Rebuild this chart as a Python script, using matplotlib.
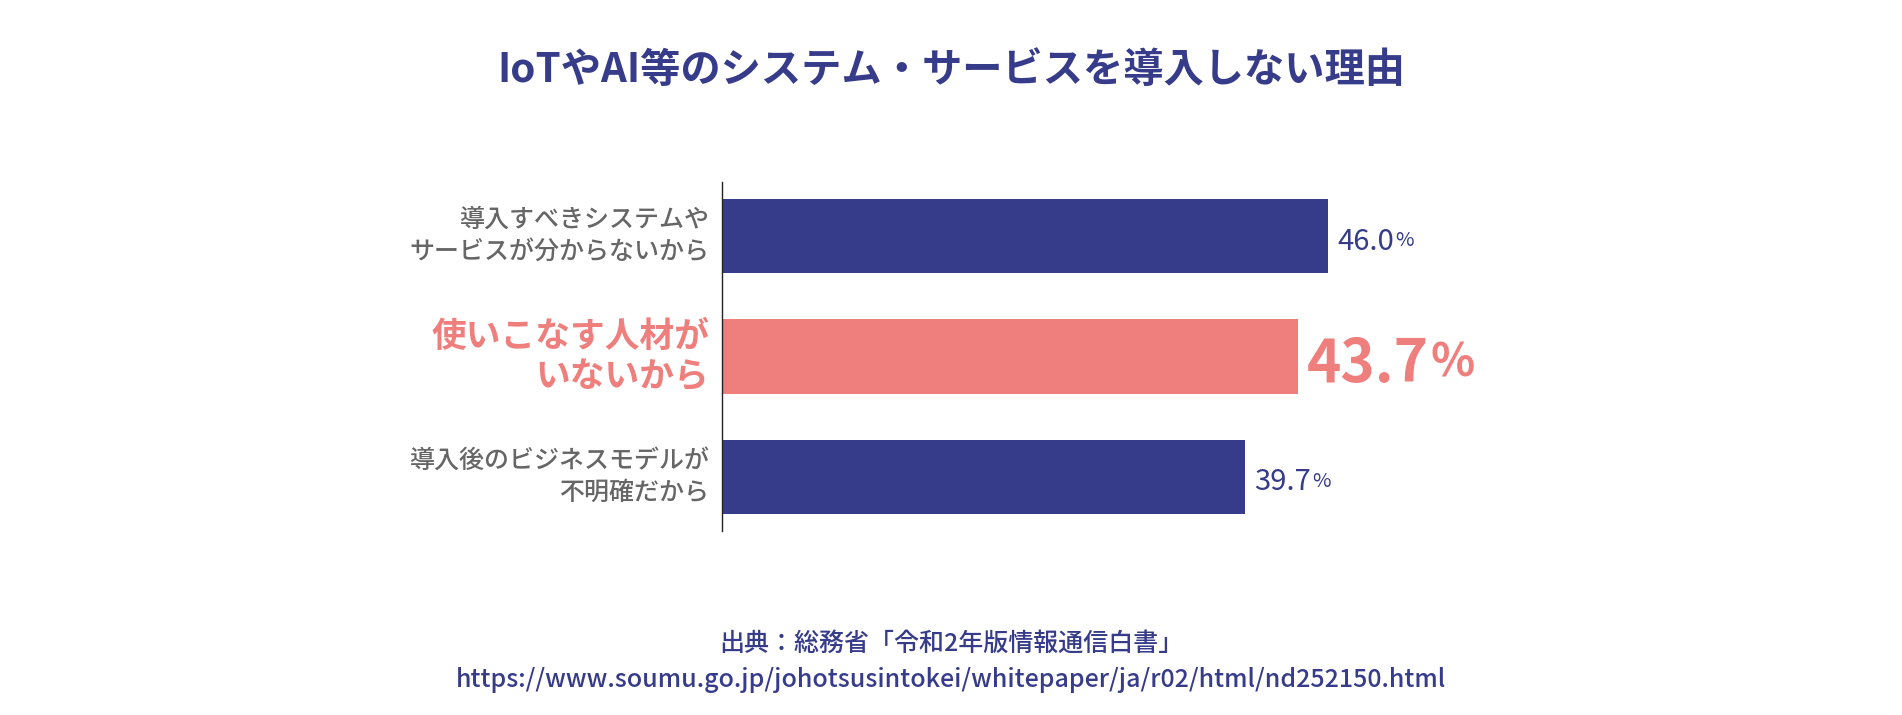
import matplotlib
matplotlib.use('Agg')
import matplotlib.pyplot as plt

# フォント設定
plt.rcParams['font.family'] = ['Noto Sans CJK JP', 'DejaVu Sans']

# データ
labels = ['導入すべきシステムや\nサービスが分からないから',
          '使いこなす人材が\nいないから',
          '導入後のビジネスモデルが\n不明確だから']
values = [46.0, 43.7, 39.7]
highlight = [False, True, False]

title = 'IoTやAI等のシステム・サービスを導入しない理由'
source1 = '出典：総務省「令和2年版情報通信白書」'
source2 = 'https://www.soumu.go.jp/johotsusintokei/whitepaper/ja/r02/html/nd252150.html'

navy = '#363B8A'
pink = '#EF7F7D'
gray = '#666666'

fig = plt.figure(figsize=(19.02, 7.15), dpi=100)
ax = fig.add_axes([0.3796, 0.2573, 0.3462, 0.4882])

y = list(range(len(values)))
colors = [pink if h else navy for h in highlight]
ax.barh(y, values, height=0.615, color=colors)

ax.set_xlim(0, 50)
ax.set_ylim(2.45, -0.45)

for s in ['top', 'right', 'bottom']:
    ax.spines[s].set_visible(False)
ax.spines['left'].set_color('#222222')
ax.spines['left'].set_linewidth(1.0)
ax.set_xticks([])
ax.set_yticks([])

# ラベルと数値
for i, (lab, v, h) in enumerate(zip(labels, values, highlight)):
    if h:
        ax.annotate(lab, (0, i), xytext=(-9, 0), textcoords='offset points',
                    ha='right', va='center', fontsize=25, fontweight='bold',
                    color=pink, linespacing=1.15)
        t = ax.annotate(f'{v:.1f}', (v, i), xytext=(7, -6), textcoords='offset points',
                        ha='left', va='center', fontsize=42, fontweight='bold', color=pink)
        ax.annotate('%', xy=(1, 0), xycoords=t, xytext=(1, 6), textcoords='offset points',
                    ha='left', va='bottom', fontsize=33, fontweight='bold', color=pink)
    else:
        ax.annotate(lab, (0, i), xytext=(-9, 0), textcoords='offset points',
                    ha='right', va='center', fontsize=18, fontweight='medium',
                    color=gray, linespacing=1.3)
        t = ax.annotate(f'{v:.1f}', (v, i), xytext=(7, -4), textcoords='offset points',
                        ha='left', va='center', fontsize=21, color=navy)
        ax.annotate('%', xy=(1, 0), xycoords=t, xytext=(1, 4), textcoords='offset points',
                    ha='left', va='bottom', fontsize=14.5, color=navy)

fig.text(0.5, 0.902, title, ha='center', va='center', fontsize=29,
         fontweight='bold', color=navy)
fig.text(0.5, 0.099, source1, ha='center', va='center', fontsize=18,
         fontweight='medium', color=navy)
fig.text(0.5, 0.049, source2, ha='center', va='center', fontsize=18,
         fontweight='medium', color=navy)

fig.savefig('out.png', dpi=100, facecolor='white')
